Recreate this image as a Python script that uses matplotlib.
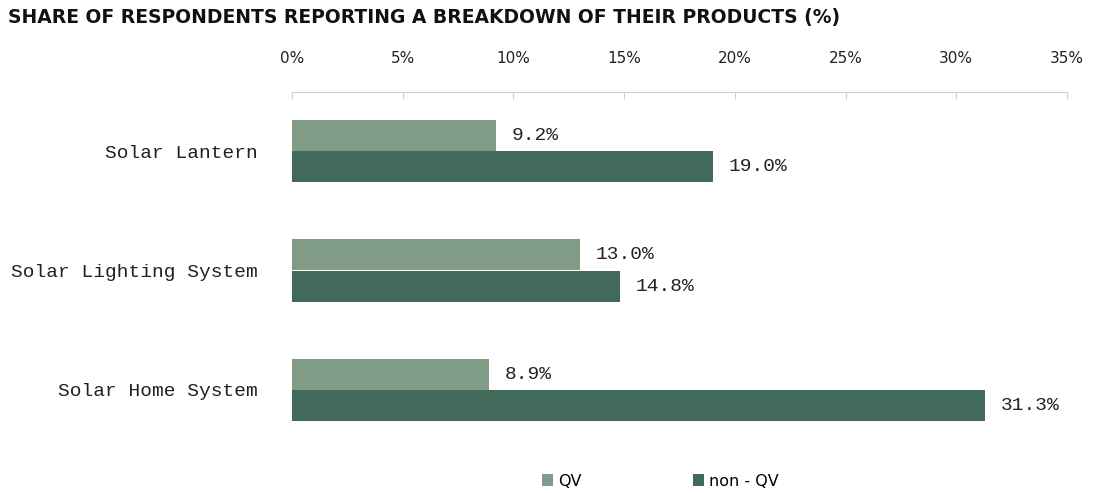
import matplotlib.pyplot as plt
import numpy as np

categories = ["Solar Lantern", "Solar Lighting System", "Solar Home System"]
qv = [9.2, 13.0, 8.9]
non_qv = [19.0, 14.8, 31.3]
ticks = [0, 5, 10, 15, 20, 25, 30, 35]

c_qv = "#809c86"
c_non = "#426a5a"
mono = "Liberation Mono"

fig = plt.figure(figsize=(10.93, 4.93), dpi=100)
ax = fig.add_axes([292 / 1093, 1 - 449 / 493, 775 / 1093, 357 / 493])

y = np.arange(len(categories))
h = 0.26
b1 = ax.barh(y - h / 2, qv, height=h, color=c_qv, label="QV")
b2 = ax.barh(y + h / 2, non_qv, height=h, color=c_non, label="non - QV")

for bars, vals in ((b1, qv), (b2, non_qv)):
    for bar, v in zip(bars, vals):
        ax.text(v + 0.7, bar.get_y() + bar.get_height() / 2, f"{v:.1f}%",
                va="center", ha="left", fontsize=14, family=mono, color="#222222")

ax.set_xlim(0, 35)
ax.set_ylim(2.494, -0.494)
ax.set_yticks(y)
ax.set_yticklabels(categories, family=mono, fontsize=14, color="#222222")
ax.tick_params(axis="y", length=0, pad=25)

ax.xaxis.tick_top()
ax.set_xticks(ticks)
ax.set_xticklabels([f"{t}%" for t in ticks], fontsize=11, color="#222222")
ax.tick_params(axis="x", direction="in", length=5, color="#d0d0d0", pad=19)

for s in ("left", "right", "bottom"):
    ax.spines[s].set_visible(False)
ax.spines["top"].set_color("#d0d0d0")

fig.text(8 / 1093, 1 - 18 / 493, "SHARE OF RESPONDENTS REPORTING A BREAKDOWN OF THEIR PRODUCTS (%)",
         fontsize=13.5, fontweight="bold", family="DejaVu Sans", va="center", ha="left", color="#111111")

fig.legend(handles=[b1, b2], loc="center", bbox_to_anchor=(0.604, 1 - 481 / 493), ncol=2,
           frameon=False, fontsize=11.5, handlelength=0.7, handleheight=0.7,
           handletextpad=0.3, columnspacing=7.0)

plt.savefig("out.png", dpi=100)
